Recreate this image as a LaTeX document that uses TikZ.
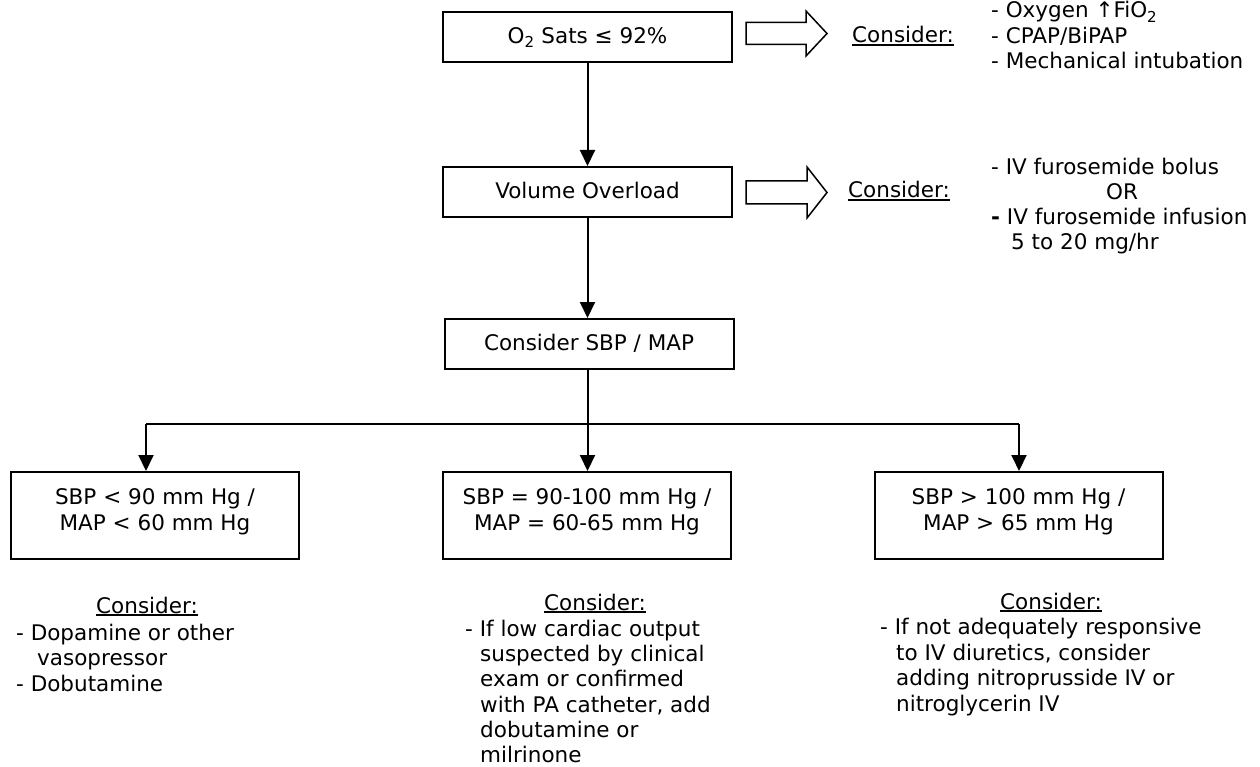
\documentclass[tikz,border=0pt]{standalone}
\usepackage{fontspec}
\setmainfont{DejaVu Sans}
\usetikzlibrary{arrows.meta}
\newcommand\uln[1]{\setbox0\hbox{#1}\rlap{\rule[-2.6pt]{\wd0}{1.4pt}}\box0}
\begin{document}
\begin{tikzpicture}[x=1pt,y=-1pt,
  box/.style={draw, line width=2pt, rectangle, inner sep=0pt,
    minimum width=289pt, minimum height=50pt,
    text height=16pt, text depth=3pt, font=\fontsize{21.5}{25}\selectfont},
  lowbox/.style={draw, line width=2pt, rectangle, inner sep=0pt,
    minimum width=288pt, minimum height=87pt},
  txt/.style={inner sep=0pt, font=\fontsize{21.5}{25}\selectfont},
  ltxt/.style={txt, anchor=base west},
  ctxt/.style={txt, anchor=base},
  conn/.style={line width=2pt},
  arr/.style={conn, -{Triangle[width=15pt,length=16pt]}},
  blockarrow/.style={draw, line width=1.5pt, line join=miter}]
\fill[white] (0,0) rectangle (1260,767);
\useasboundingbox (0,0) rectangle (1260,767);

% main column
\node[box] (b1) at (587.5,37) {O\textsubscript{2} Sats ≤ 92\%};
\node[box] (b2) at (587.5,192) {Volume Overload};
\node[box] (b3) at (589,344) {Consider SBP / MAP};
\draw[arr] (b1.south) -- (b1.south |- b2.north);
\draw[arr] (b1.south |- b2.south) -- (b1.south |- b3.north);

% block arrows
\draw[blockarrow] (746,22.5) -- (806,22.5) -- (806,11) -- (827,33.5) -- (806,56) -- (806,44.5) -- (746,44.5) -- cycle;
\draw[blockarrow] (746,181) -- (807,181) -- (807,167) -- (827,192.5) -- (807,218) -- (807,204) -- (746,204) -- cycle;

% top right texts
\node[ctxt] (c1) at (903,43) {\uln{Consider:}};
\node[ltxt] (o1) at (991,18) {- Oxygen ↑FiO\textsubscript{2}};
\node[ltxt] (o2) at (991,43.5) {- CPAP/BiPAP};
\node[ltxt] (o3) at (991,69) {- Mechanical intubation};

\node[ctxt] (c2) at (899,198) {\uln{Consider:}};
\node[ltxt] (f1) at (991,175) {- IV furosemide bolus};
\node[ctxt] (f2) at (1122,200) {OR};
\node[ltxt] (f3) at (991,225) {\textbf{-} IV furosemide infusion};
\node[ltxt] (f4) at (1011,250) {5 to 20 mg/hr};

% branches
\node[lowbox] (bl) at (155,515.5) {};
\node[lowbox] (bm) at (587,515.5) {};
\node[lowbox] (br) at (1018.5,515.5) {};
\coordinate (hl) at (146,424);
\coordinate (hm) at (587.5,424);
\coordinate (hr) at (1019,424);
\draw[conn] (b1.south |- b3.south) -- (hm);
\draw[conn] (hl) -- (hr);
\draw[arr] (hl) -- (hl |- bl.north);
\draw[arr] (hm) -- (hm |- bm.north);
\draw[arr] (hr) -- (hr |- br.north);

\node[ctxt] (bl1) at (155,504.5) {SBP < 90 mm Hg /};
\node[ctxt] (bl2) at (155,530) {MAP < 60 mm Hg};
\node[ctxt] (bm1) at (587,504.5) {SBP = 90-100 mm Hg /};
\node[ctxt] (bm2) at (587,530) {MAP = 60-65 mm Hg};
\node[ctxt] (br1) at (1018.5,504.5) {SBP > 100 mm Hg /};
\node[ctxt] (br2) at (1018.5,530) {MAP > 65 mm Hg};

% bottom left
\node[ctxt] (cl) at (147,613) {\uln{Consider:}};
\node[ltxt] (l1) at (16,640) {- Dopamine or other};
\node[ltxt] (l2) at (37,665.5) {vasopressor};
\node[ltxt] (l3) at (16,691) {- Dobutamine};

% bottom middle
\node[ctxt] (cm) at (595,610) {\uln{Consider:}};
\node[ltxt] (m1) at (465,636) {- If low cardiac output};
\node[ltxt] (m2) at (480,661) {suspected by clinical};
\node[ltxt] (m3) at (480,686.5) {exam or confirmed};
\node[ltxt] (m4) at (480,712) {with PA catheter, add};
\node[ltxt] (m5) at (480,737) {dobutamine or};
\node[ltxt] (m6) at (480,762) {milrinone};

% bottom right
\node[ctxt] (cr) at (1051,609) {\uln{Consider:}};
\node[ltxt] (r1) at (880,634) {- If not adequately responsive};
\node[ltxt] (r2) at (896,660) {to IV diuretics, consider};
\node[ltxt] (r3) at (896,685.5) {adding nitroprusside IV or};
\node[ltxt] (r4) at (896,711) {nitroglycerin IV};
\end{tikzpicture}
\end{document}
